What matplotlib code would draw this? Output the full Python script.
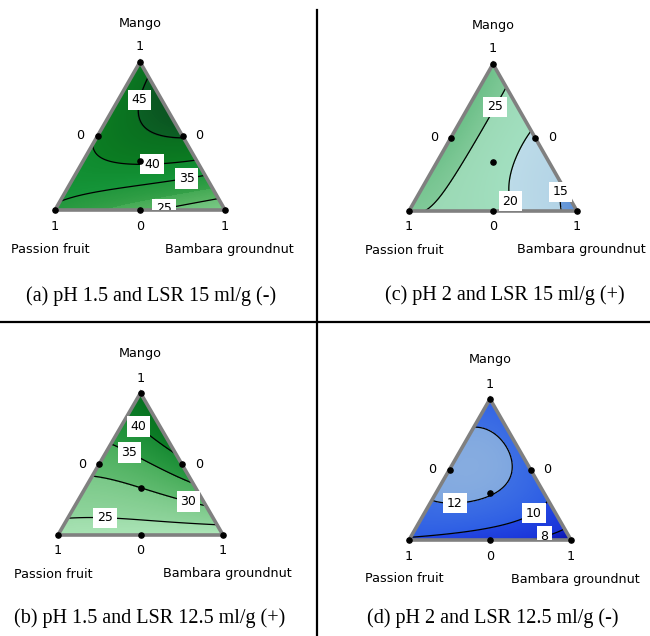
import numpy as np
import matplotlib.pyplot as plt
import matplotlib.tri as mtri
from matplotlib.colors import LinearSegmentedColormap
from matplotlib.lines import Line2D

# simplex-centroid design (fractions): passion fruit, bambara groundnut, mango
pf = [1, 0, 0, 0.5, 0.5, 0, 1 / 3]
bg = [0, 1, 0, 0.5, 0, 0.5, 1 / 3]
mg = [0, 0, 1, 0, 0.5, 0.5, 1 / 3]

# response read at the design points (same order as above)
resp_a = [34.0, 19.0, 42.0, 26.6, 40.5, 45.3, 40.7]
resp_b = [23.5, 22.0, 45.0, 23.0, 31.75, 38.5, 30.0]
resp_c = [25.3, 13.0, 28.0, 21.65, 28.4, 19.3, 22.0]
resp_d = [9.8, 7.0, 10.6, 8.8, 12.64, 11.25, 12.1]

levels_a = [25, 35, 40, 45]
levels_b = [25, 30, 35, 40]
levels_c = [15, 20, 25]
levels_d = [8, 10, 12]

captions = ['(a) pH 1.5 and LSR 15 ml/g (-)', '(b) pH 1.5 and LSR 12.5 ml/g (+)',
            '(c) pH 2 and LSR 15 ml/g (+)', '(d) pH 2 and LSR 12.5 ml/g (-)']

W, HF = 650, 636
H = np.sqrt(3) / 2


def scheffe(resp, p, b, m):
    y1, y2, y3, y12, y13, y23, y123 = resp
    b12 = 4 * y12 - 2 * y1 - 2 * y2
    b13 = 4 * y13 - 2 * y1 - 2 * y3
    b23 = 4 * y23 - 2 * y2 - 2 * y3
    b123 = 27 * y123 - 12 * (y12 + y13 + y23) + 3 * (y1 + y2 + y3)
    return (y1 * p + y2 * b + y3 * m + b12 * p * b + b13 * p * m
            + b23 * b * m + b123 * p * b * m)


def band_cmap(edges, cols):
    lo, hi = edges[0], edges[-1]
    pts = []
    for k, (c0, c1) in enumerate(cols):
        pts.append(((edges[k] - lo) / (hi - lo), c0))
        pts.append(((edges[k + 1] - lo) / (hi - lo), c1))
    return LinearSegmentedColormap.from_list('band', pts, N=512)


# grid on the simplex
n = 70
gp, gb, gm = [], [], []
for i in range(n + 1):
    for j in range(n + 1 - i):
        gp.append(i / n)
        gb.append(j / n)
        gm.append((n - i - j) / n)
gp, gb, gm = np.array(gp), np.array(gb), np.array(gm)
gx = gb + gm / 2
gy = gm * H
tri = mtri.Triangulation(gx, gy)

panels = [
    dict(resp=resp_a, levels=levels_a, cap=captions[0],
         box=(55, 225, 62, 210), cap_xy=(151, 296),
         lab=[(140, 100), (152, 168), (188, 187), (163, 204)],
         bands=[25, 30, 35, 40, 45],
         cols=[('#7ccb87', '#6abf77'), ('#5ab565', '#45aa55'), ('#35a048', '#22973d'),
               ('#16963a', '#0f8a2e'), ('#0b7d22', '#0a6f20'), ('#0b6124', '#0a5420')]),
    dict(resp=resp_b, levels=levels_b, cap=captions[1],
         box=(58, 223, 393, 535), cap_xy=(150, 618),
         lab=[(137, 428), (128, 455), (187, 507), (105, 518)],
         bands=[25, 30, 35, 40],
         cols=[('#b0e8bb', '#9edcaa'), ('#8fd49c', '#7ac888'), ('#5fba6f', '#4aae5c'),
               ('#2a9a42', '#1a8c35'), ('#0d7e27', '#06701f')]),
    dict(resp=resp_c, levels=levels_c, cap=captions[2],
         box=(409, 577, 64, 211), cap_xy=(505, 295),
         lab=[(497, 108), (513, 201), (554, 191)],
         bands=[15, 20, 25],
         cols=[('#5b8fd8', '#6a9ad8'), ('#b3d3e6', '#bcdbe8'), ('#a2dfc0', '#9bd9b5'),
               ('#80c998', '#6cbf88')]),
    dict(resp=resp_d, levels=levels_d, cap=captions[3],
         box=(409, 571, 399, 540), cap_xy=(493, 618),
         lab=[(455, 505), (532, 510), (543, 532)],
         bands=[8, 10, 12],
         cols=[('#0b0fa0', '#1426c8'), ('#1a33d8', '#2246e0'), ('#2c5ce4', '#3c6ee4'),
               ('#7ea6e0', '#86ace0')]),
]

fig = plt.figure(figsize=(W / 100, HF / 100), dpi=100)


def ftext(x, y, s, **kw):
    fig.text(x / W, 1 - y / HF, s, ha='center', va='center', **kw)


sans = dict(family='DejaVu Sans', fontsize=9.2)

for pn in panels:
    xl, xr, yt, yb = pn['box']
    ax = fig.add_axes([xl / W, 1 - yb / HF, (xr - xl) / W, (yb - yt) / HF])
    ax.set_xlim(0, 1)
    ax.set_ylim(0, H)
    ax.axis('off')

    z = scheffe(pn['resp'], gp, gb, gm)
    zlo, zhi = z.min() - 0.01, z.max() + 0.01
    edges = [zlo] + pn['bands'] + [zhi]
    cmap = band_cmap(edges, pn['cols'])
    ax.tricontourf(tri, z, levels=np.linspace(zlo, zhi, 120), cmap=cmap,
                   vmin=zlo, vmax=zhi)
    cs = ax.tricontour(tri, z, levels=pn['levels'], colors='k', linewidths=0.9)

    pos = [((px - xl) / (xr - xl), (yb - py) / (yb - yt) * H) for px, py in pn['lab']]
    labels = ax.clabel(cs, fmt='%d', manual=pos, inline=False, fontsize=9)
    for t in labels:
        t.set_rotation(0)
        t.set_bbox(dict(boxstyle='square,pad=0.3', fc='white', ec='none'))
        t.set_zorder(6)

    ax.plot([0, 1, 0.5, 0], [0, 0, H, 0], color='#808080', lw=2.6,
            clip_on=False, zorder=4, solid_joinstyle='miter')
    dx = np.array(bg) + np.array(mg) / 2
    dy = np.array(mg) * H
    ax.scatter(dx, dy, s=14, c='k', zorder=7, clip_on=False)

    xc = (xl + xr) / 2
    ftext(xc, yt - 39, 'Mango', **sans)
    ftext(xc, yt - 15, '1', **sans)
    ym = (yt + yb) / 2
    ftext((xl + xc) / 2 - 17, ym, '0', **sans)
    ftext((xr + xc) / 2 + 17, ym, '0', **sans)
    ftext(xl, yb + 16, '1', **sans)
    ftext(xc, yb + 16, '0', **sans)
    ftext(xr, yb + 16, '1', **sans)
    ftext(xl - 5, yb + 39, 'Passion fruit', **sans)
    ftext(xr + 4, yb + 39, 'Bambara groundnut', **sans)
    ftext(pn['cap_xy'][0], pn['cap_xy'][1], pn['cap'], family='Liberation Serif',
          fontsize=14.5)

fig.add_artist(Line2D([317 / W, 317 / W], [0, 1 - 10 / HF], color='k', lw=1.6))
fig.add_artist(Line2D([0, 1], [1 - 322 / HF, 1 - 322 / HF], color='k', lw=1.6))

fig.savefig('out.png', dpi=100)
